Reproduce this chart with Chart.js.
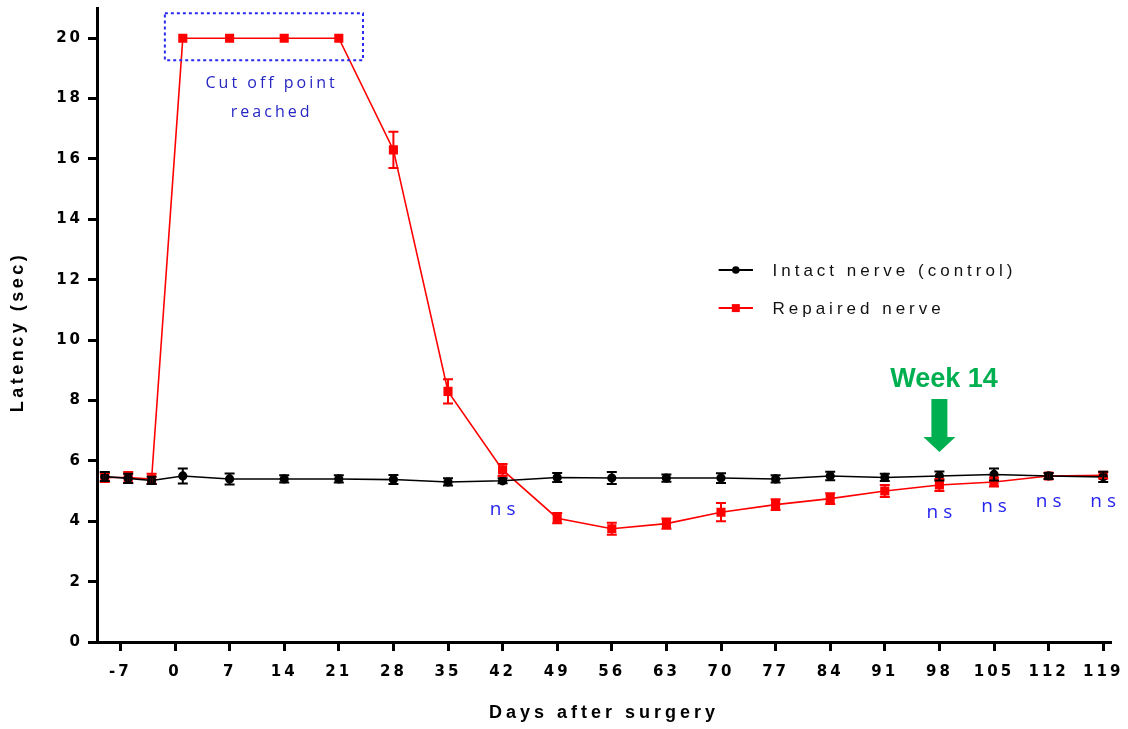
<!DOCTYPE html>
<html><head><meta charset="utf-8">
<script src="https://cdn.jsdelivr.net/npm/chart.js@4/dist/chart.umd.min.js"></script>
<style>html,body{margin:0;padding:0;background:#fff}#wrap{width:1128px;height:729px;position:relative}</style>
</head><body><div id="wrap"><canvas id="c" width="1128" height="729" style="width:1128px;height:729px"></canvas></div>
<script>
const days = [-9,-6,-3,1,7,14,21,28,35,42,49,56,63,70,77,84,91,98,105,112,119];
const intact    = [5.48,5.42,5.35,5.5,5.4,5.4,5.4,5.38,5.3,5.34,5.45,5.43,5.43,5.43,5.4,5.5,5.45,5.5,5.55,5.5,5.47];
const intactErr = [0.15,0.15,0.12,0.25,0.18,0.12,0.12,0.15,0.12,0.08,0.15,0.2,0.12,0.16,0.12,0.14,0.12,0.15,0.2,0.1,0.17];
const repaired    = [5.45,5.45,5.4,20,20,20,20,16.3,8.3,5.7,4.1,3.75,3.92,4.3,4.55,4.75,5.0,5.2,5.3,5.5,5.52];
const repairedErr = [0.15,0.18,0.17,0,0,0,0,0.6,0.4,0.2,0.17,0.2,0.17,0.3,0.18,0.18,0.2,0.2,0.15,0.1,0.1];
const xTicks = [-7,0,7,14,21,28,35,42,49,56,63,70,77,84,91,98,105,112,119];
const yTicks = [0,2,4,6,8,10,12,14,16,18,20];
const seriesNames = ['Intact nerve (control)','Repaired nerve'];
const xTitle = 'Days after surgery';
const yTitle = 'Latency (sec)';
const nsDays = [42,98,105,112,119];
const nsLevels = [4.37,4.3,4.47,4.64,4.64];
const cutoffLines = ['Cut off point','reached'];
const weekLabel = 'Week 14';

const AX = "'Liberation Sans', Arial, sans-serif";
const TK = "'DejaVu Sans', sans-serif";

const errPlugin = {
  id:'extras',
  beforeLayout(chart){ chart.ctx.letterSpacing='3px'; },
  beforeDraw(chart){ chart.ctx.letterSpacing='3px'; },
  afterDatasetsDraw(chart){
    const ctx=chart.ctx, xs=chart.scales.x, ys=chart.scales.y;
    const sets=[[repaired,repairedErr,'#ff0000'],[intact,intactErr,'#000000']];
    ctx.save();
    sets.forEach(([v,e,col])=>{
      ctx.strokeStyle=col; ctx.lineWidth=2;
      days.forEach((d,i)=>{
        if(!e[i]) return;
        const x=xs.getPixelForValue(d), y1=ys.getPixelForValue(v[i]+e[i]), y2=ys.getPixelForValue(v[i]-e[i]);
        ctx.beginPath();
        ctx.moveTo(x,y1);ctx.lineTo(x,y2);
        ctx.moveTo(x-5,y1);ctx.lineTo(x+5,y1);
        ctx.moveTo(x-5,y2);ctx.lineTo(x+5,y2);
        ctx.stroke();
      });
    });
    ctx.restore();
  },
  afterDraw(chart){
    const ctx=chart.ctx, xs=chart.scales.x, ys=chart.scales.y;
    const X=v=>xs.getPixelForValue(v), Y=v=>ys.getPixelForValue(v);
    ctx.save();
    // axis titles
    ctx.fillStyle='#000'; ctx.font="bold 18px "+AX; ctx.textAlign='center'; ctx.textBaseline='middle';
    ctx.letterSpacing='4px';
    ctx.fillText(xTitle,(chart.chartArea.left+chart.chartArea.right)/2,713);
    ctx.save();
    ctx.translate(18,332); ctx.rotate(-Math.PI/2);
    ctx.letterSpacing='3.5px';
    ctx.fillText(yTitle,0,0);
    ctx.restore();
    // dotted box
    ctx.strokeStyle='#2a2aee'; ctx.lineWidth=2; ctx.setLineDash([3,3]);
    ctx.strokeRect(X(-1.3),Y(20.83),X(24.1)-X(-1.3),Y(19.27)-Y(20.83));
    ctx.setLineDash([]);
    // cut off text
    ctx.fillStyle='#2626c4'; ctx.font="16px 'Open Sans', sans-serif";
    ctx.letterSpacing='3px';
    ctx.fillText(cutoffLines[0],X(12.2)+1.5,Y(18.5));
    ctx.fillText(cutoffLines[1],X(12.2)+1.5,Y(17.55));
    // ns labels
    ctx.fillStyle='#2424ee'; ctx.font="19px 'Open Sans', sans-serif"; ctx.letterSpacing='5px';
    nsDays.forEach((d,i)=>ctx.fillText('ns',X(d)+2.5,Y(nsLevels[i])));
    // Week 14
    ctx.fillStyle='#00b050'; ctx.font="bold 27px "+AX; ctx.letterSpacing='0px';
    ctx.fillText(weekLabel,X(98.6),Y(8.68));
    // arrow
    const ax=X(98), t=Y(8.05), m=Y(6.79), tip=Y(6.29);
    ctx.beginPath();
    ctx.moveTo(ax-8,t);ctx.lineTo(ax+8,t);ctx.lineTo(ax+8,m);ctx.lineTo(ax+16,m);ctx.lineTo(ax,tip);ctx.lineTo(ax-16,m);ctx.lineTo(ax-8,m);ctx.closePath();
    ctx.fill();
    // legend
    const lx1=X(69.7), lx2=X(74.1), tx=X(76.6);
    const ly=[Y(12.32),Y(11.06)];
    const cols=['#000000','#ff0000'];
    ctx.font="17px "+AX; ctx.textAlign='left'; ctx.letterSpacing='4px';
    for(let i=0;i<2;i++){
      ctx.strokeStyle=cols[i]; ctx.lineWidth=2;
      ctx.beginPath();ctx.moveTo(lx1,ly[i]);ctx.lineTo(lx2,ly[i]);ctx.stroke();
      ctx.fillStyle=cols[i];
      const cx=(lx1+lx2)/2;
      if(i===0){ctx.beginPath();ctx.arc(cx,ly[i],3.8,0,Math.PI*2);ctx.fill();}
      else{ctx.fillRect(cx-4,ly[i]-4,8,8);}
      ctx.fillStyle='#111';
      ctx.fillText(seriesNames[i],tx,ly[i]+1);
    }
    ctx.restore();
  }
};

new Chart(document.getElementById('c'),{
  type:'line',
  data:{datasets:[
    {label:seriesNames[0],data:days.map((d,i)=>({x:d,y:intact[i]})),borderColor:'#000',backgroundColor:'#000',borderWidth:1.6,pointStyle:'circle',pointRadius:3.8,pointHoverRadius:3.8,tension:0,clip:false},
    {label:seriesNames[1],data:days.map((d,i)=>({x:d,y:repaired[i]})),borderColor:'#ff0000',backgroundColor:'#ff0000',borderWidth:1.6,pointStyle:'rect',pointRadius:5.3,pointHoverRadius:5.3,tension:0,clip:false}
  ]},
  options:{
    responsive:false, animation:false, devicePixelRatio:1,
    layout:{padding:{top:8,right:17,left:0,bottom:0}},
    plugins:{legend:{display:false},tooltip:{enabled:false}},
    events:[],
    scales:{
      x:{type:'linear',min:-10,max:120,
        afterBuildTicks:s=>{s.ticks=xTicks.map(v=>({value:v}));},
        afterFit:s=>{s.height=87;s.paddingLeft=0;s.paddingRight=0;},
        grid:{drawOnChartArea:false,drawTicks:true,tickLength:9,tickWidth:3,tickColor:'#000'},
        border:{display:true,color:'#000',width:3},
        ticks:{color:'#000',font:{family:TK,size:15,weight:'bold'},padding:12,maxRotation:0,autoSkip:false},
        title:{display:false}
      },
      y:{type:'linear',min:0,max:21,
        afterBuildTicks:s=>{s.ticks=yTicks.map(v=>({value:v}));},
        afterFit:s=>{s.width=97;s.paddingTop=0;s.paddingBottom=0;},
        grid:{drawOnChartArea:false,drawTicks:true,tickLength:9,tickWidth:3,tickColor:'#000'},
        border:{display:true,color:'#000',width:3},
        ticks:{color:'#000',font:{family:TK,size:15,weight:'bold'},padding:5},
        title:{display:false}
      }
    }
  },
  plugins:[errPlugin]
});
</script></body></html>
